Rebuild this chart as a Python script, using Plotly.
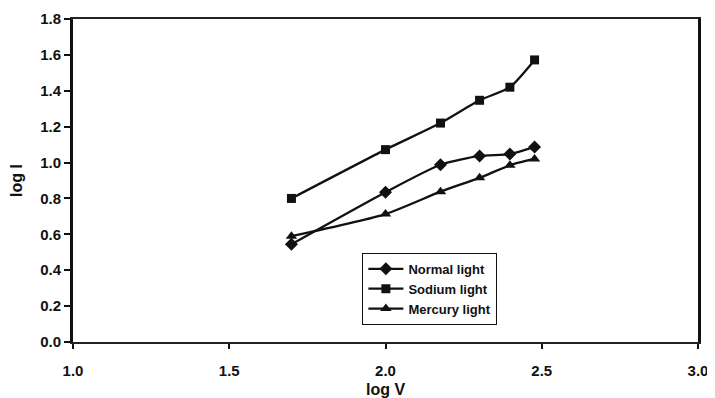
import plotly.graph_objects as go

log_v = [1.699, 2.000, 2.176, 2.301, 2.398, 2.477]
normal = [0.545, 0.835, 0.988, 1.037, 1.047, 1.087]
sodium = [0.800, 1.072, 1.220, 1.347, 1.420, 1.572]
mercury = [0.590, 0.713, 0.838, 0.915, 0.985, 1.020]

x_ticks = [1.0, 1.5, 2.0, 2.5, 3.0]
y_ticks = [0.0, 0.2, 0.4, 0.6, 0.8, 1.0, 1.2, 1.4, 1.6, 1.8]

FAM = "Liberation Sans, Arial, sans-serif"
tick_font = dict(family=FAM, size=15, color="#111", weight="bold")
title_font = dict(family=FAM, size=16, color="#111", weight="bold")

fig = go.Figure()
series = [("Normal light", normal, "diamond", 10),
          ("Sodium light", sodium, "square", 9),
          ("Mercury light", mercury, "triangle-up", 10)]
for name, vals, sym, sz in series:
    fig.add_trace(go.Scatter(
        x=log_v, y=vals, name=name, mode="lines+markers",
        line=dict(color="#111", width=2.3, shape="spline", smoothing=0.6),
        marker=dict(symbol=sym, size=sz, color="#111"),
    ))

# The page body adds an 8px margin, so the figure is sized to fit 707x390
fig.update_layout(
    width=707, height=390,
    margin=dict(l=65, r=17, t=11, b=56),
    paper_bgcolor="white", plot_bgcolor="white",
    font=tick_font,
    showlegend=True,
    legend=dict(x=0.463, y=0.276, xanchor="left", yanchor="top",
                bgcolor="white", bordercolor="#111", borderwidth=1,
                font=dict(family=FAM, size=13, color="#111", weight="bold"),
                itemwidth=35, tracegroupgap=0),
    xaxis=dict(range=[1.0, 3.0], tickvals=x_ticks, ticktext=[f"{v:.1f}" for v in x_ticks],
               showgrid=False, zeroline=False, showline=True, linecolor="#222", linewidth=2,
               mirror=True, ticks="outside", ticklen=5, tickwidth=2, tickcolor="#111",
               ticklabelstandoff=9, automargin=False, ticklabeloverflow="allow",
               title=dict(text="log V", standoff=6, font=title_font), tickfont=tick_font),
    yaxis=dict(range=[0.0, 1.8], tickvals=y_ticks, ticktext=[f"{v:.1f}" for v in y_ticks],
               showgrid=False, zeroline=False, showline=True, linecolor="#111", linewidth=3,
               mirror=True, ticks="outside", ticklen=6, tickwidth=2, tickcolor="#111",
               automargin=False,
               title=dict(text="log I", standoff=14, font=title_font), tickfont=tick_font),
)

fig.write_html("out.html")
